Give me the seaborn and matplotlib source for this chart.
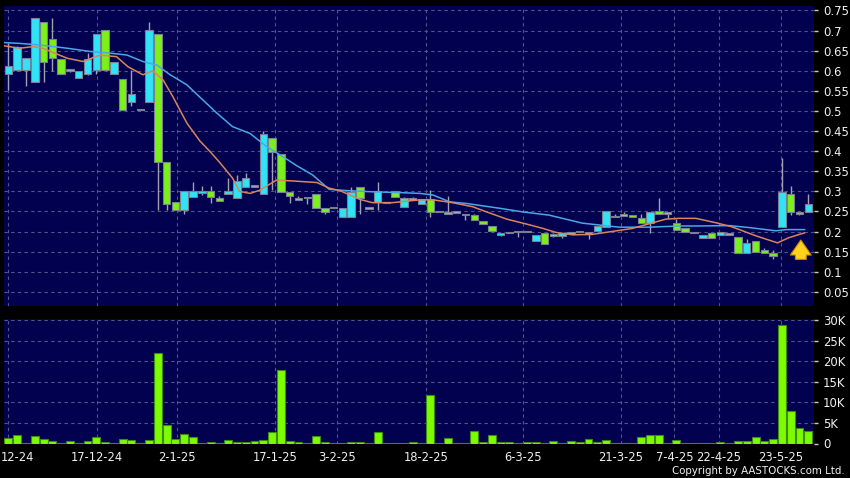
import numpy as np
import matplotlib
matplotlib.use("Agg")
import matplotlib.pyplot as plt
import seaborn as sns

# ---------------- data ----------------
opens = [0.592, 0.602, 0.602, 0.572, 0.720, 0.680, 0.630, 0.600, 0.582, 0.592,
         0.602, 0.701, 0.592, 0.580, 0.522, 0.502, 0.522, 0.691, 0.372, 0.273,
         0.254, 0.287, 0.297, 0.302, 0.283, 0.293, 0.283, 0.312, 0.312, 0.293,
         0.432, 0.392, 0.298, 0.278, 0.283, 0.293, 0.258, 0.258, 0.237, 0.237,
         0.312, 0.257, 0.273, 0.270, 0.302, 0.262, 0.279, 0.269, 0.281, 0.248,
         0.245, 0.247, 0.241, 0.241, 0.227, 0.214, 0.192, 0.196, 0.198, 0.198,
         0.177, 0.196, 0.192, 0.189, 0.195, 0.198, 0.195, 0.201, 0.212, 0.236,
         0.244, 0.240, 0.233, 0.221, 0.251, 0.249, 0.222, 0.208, 0.196, 0.183,
         0.196, 0.192, 0.192, 0.187, 0.148, 0.177, 0.154, 0.146, 0.212, 0.293,
         0.245, 0.248]
highs = [0.670, 0.662, 0.631, 0.731, 0.720, 0.731, 0.630, 0.602, 0.600, 0.644,
         0.691, 0.701, 0.621, 0.580, 0.602, 0.502, 0.721, 0.691, 0.372, 0.273,
         0.302, 0.324, 0.313, 0.313, 0.289, 0.333, 0.341, 0.345, 0.312, 0.450,
         0.432, 0.392, 0.298, 0.289, 0.283, 0.293, 0.258, 0.258, 0.258, 0.312,
         0.312, 0.257, 0.324, 0.270, 0.302, 0.285, 0.285, 0.281, 0.303, 0.251,
         0.289, 0.247, 0.241, 0.243, 0.227, 0.214, 0.196, 0.200, 0.198, 0.198,
         0.192, 0.196, 0.196, 0.196, 0.195, 0.198, 0.195, 0.214, 0.251, 0.243,
         0.248, 0.240, 0.245, 0.249, 0.283, 0.249, 0.232, 0.208, 0.196, 0.192,
         0.196, 0.200, 0.192, 0.187, 0.181, 0.177, 0.159, 0.154, 0.382, 0.313,
         0.247, 0.293]
lows = [0.552, 0.600, 0.562, 0.572, 0.572, 0.600, 0.592, 0.598, 0.582, 0.590,
        0.592, 0.602, 0.592, 0.502, 0.512, 0.502, 0.522, 0.254, 0.254, 0.254,
        0.244, 0.287, 0.292, 0.272, 0.277, 0.293, 0.283, 0.312, 0.312, 0.293,
        0.303, 0.298, 0.272, 0.278, 0.268, 0.258, 0.245, 0.258, 0.237, 0.237,
        0.243, 0.257, 0.254, 0.270, 0.287, 0.262, 0.279, 0.269, 0.236, 0.248,
        0.245, 0.247, 0.229, 0.229, 0.218, 0.201, 0.190, 0.196, 0.186, 0.198,
        0.177, 0.169, 0.186, 0.185, 0.195, 0.198, 0.181, 0.201, 0.212, 0.236,
        0.240, 0.237, 0.221, 0.197, 0.243, 0.235, 0.204, 0.200, 0.196, 0.183,
        0.183, 0.192, 0.192, 0.146, 0.148, 0.150, 0.146, 0.133, 0.212, 0.241,
        0.241, 0.248]
closes = [0.612, 0.660, 0.631, 0.731, 0.622, 0.632, 0.592, 0.600, 0.600, 0.630,
          0.691, 0.602, 0.621, 0.502, 0.541, 0.502, 0.701, 0.373, 0.269, 0.254,
          0.302, 0.302, 0.300, 0.287, 0.277, 0.302, 0.327, 0.333, 0.312, 0.442,
          0.397, 0.298, 0.288, 0.283, 0.283, 0.258, 0.249, 0.258, 0.258, 0.298,
          0.283, 0.257, 0.302, 0.270, 0.287, 0.283, 0.281, 0.281, 0.248, 0.251,
          0.247, 0.247, 0.241, 0.229, 0.218, 0.201, 0.196, 0.200, 0.198, 0.198,
          0.192, 0.169, 0.189, 0.196, 0.195, 0.198, 0.195, 0.214, 0.251, 0.238,
          0.240, 0.237, 0.221, 0.249, 0.243, 0.244, 0.204, 0.200, 0.196, 0.192,
          0.183, 0.200, 0.192, 0.146, 0.171, 0.150, 0.146, 0.140, 0.298, 0.249,
          0.245, 0.268]
volumes_k = [1.4, 2.0, 0.05, 1.9, 1.1, 0.5, 0.05, 0.7, 0.05, 0.5,
             1.5, 0.3, 0.05, 1.05, 0.9, 0.05, 0.9, 22.1, 4.5, 1.2,
             2.4, 1.6, 0.2, 0.4, 0.05, 0.8, 0.25, 0.25, 0.55, 0.8,
             2.8, 17.8, 0.55, 0.25, 0.15, 1.8, 0.25, 0.05, 0.05, 0.3,
             0.25, 0.05, 2.9, 0.05, 0.05, 0.15, 0.4, 0.05, 11.8, 0.2,
             1.4, 0.05, 0.05, 3.0, 0.3, 2.0, 0.3, 0.25, 0.05, 0.25,
             0.25, 0.05, 0.7, 0.05, 0.65, 0.25, 1.05, 0.3, 0.8, 0.2,
             0.2, 0.05, 1.6, 1.95, 2.1, 0.05, 0.8, 0.05, 0.05, 0.05,
             0.05, 0.3, 0.05, 0.5, 0.5, 1.55, 0.65, 1.05, 28.8, 7.95,
             3.65, 3.0]

# moving-average lines read at sample positions (bar index units)
ma_long_x = [-0.5, 1.3, 3.6, 6.7, 9.3, 11.5, 13.5, 15.3, 16.9, 18.4, 20.3, 21.8,
             23.7, 25.5, 27.5, 29.4, 30.9, 32.8, 34.6, 36.5, 38.5, 41.4, 44.5,
             46.8, 48.3, 50.2, 52.1, 55.9, 58.5, 61.5, 65.3, 69.5, 72.9, 76.3,
             78.6, 82.0, 84.3, 87.3, 88.5, 90.6]
ma_long = [0.670, 0.668, 0.664, 0.656, 0.648, 0.644, 0.639, 0.623, 0.614, 0.590,
           0.565, 0.534, 0.495, 0.461, 0.444, 0.411, 0.391, 0.364, 0.341, 0.305,
           0.302, 0.299, 0.297, 0.295, 0.291, 0.274, 0.270, 0.258, 0.249, 0.241,
           0.221, 0.211, 0.211, 0.214, 0.214, 0.215, 0.210, 0.202, 0.205, 0.205]
ma_short_x = [-0.5, 1.3, 2.8, 3.9, 6.7, 8.5, 10.4, 12.3, 13.6, 15.3, 16.4, 17.6,
              18.7, 20.3, 21.8, 22.9, 24.0, 25.5, 26.3, 27.5, 28.6, 30.5, 32.3,
              35.1, 36.5, 37.7, 40.0, 41.4, 43.7, 46.8, 48.3, 50.5, 52.8, 54.4,
              56.7, 58.9, 60.8, 62.3, 64.2, 66.4, 69.5, 71.0, 74.8, 76.3, 78.2,
              80.5, 82.3, 85.1, 87.5, 88.8, 90.6]
ma_short = [0.662, 0.656, 0.660, 0.656, 0.631, 0.623, 0.639, 0.635, 0.610, 0.590,
            0.600, 0.577, 0.536, 0.470, 0.425, 0.400, 0.373, 0.333, 0.300, 0.295,
            0.303, 0.328, 0.326, 0.322, 0.308, 0.302, 0.280, 0.272, 0.272, 0.279,
            0.279, 0.272, 0.262, 0.249, 0.231, 0.219, 0.208, 0.198, 0.192, 0.193,
            0.203, 0.208, 0.231, 0.233, 0.233, 0.222, 0.212, 0.189, 0.172, 0.185,
            0.197]

# first label is only partly visible in the source ("12-24" at the left edge)
x_tick_labels = ["12-24", "17-12-24", "2-1-25", "17-1-25", "3-2-25", "18-2-25",
                 "6-3-25", "21-3-25", "7-4-25", "22-4-25", "23-5-25"]
x_tick_days = [0, 10, 19, 30, 37, 47, 58, 69, 75, 80, 87]
price_ticks = [0.05, 0.1, 0.15, 0.2, 0.25, 0.3, 0.35, 0.4, 0.45, 0.5, 0.55,
               0.6, 0.65, 0.7, 0.75]
price_tick_labels = ["0.05", "0.1", "0.15", "0.2", "0.25", "0.3", "0.35", "0.4",
                     "0.45", "0.5", "0.55", "0.6", "0.65", "0.7", "0.75"]
vol_ticks = [0, 5, 10, 15, 20, 25, 30]
vol_tick_labels = ["0", "5K", "10K", "15K", "20K", "25K", "30K"]

# ---------------- style ----------------
sns.set_theme(style="dark")
plt.rcParams["font.family"] = ["DejaVu Sans"]

NAVY = "#01014f"
GRID = "#54548c"
CYAN = "#2ee4f6"
GREEN = "#7cf01c"
DOJI = "#a8a8b8"
WICK = "#a0a0b0"
EDGE = "#7a8090"
TXT = "#f0f0f0"
TICK_SCALE = 8.89 / 8.8   # tick spacing of the source chart vs bar spacing

fig = plt.figure(figsize=(8.5, 4.78), dpi=100, facecolor="black")
W, H = 850.0, 478.0
ax = fig.add_axes([4 / W, (H - 306) / H, (814 - 4) / W, 300 / H], facecolor=NAVY)
axv = fig.add_axes([4 / W, (H - 443.5) / H, (814 - 4) / W, 124.5 / H], facecolor=NAVY)

n = len(opens)
idx = np.arange(n)
o = np.array(opens); c = np.array(closes)
hi = np.array(highs); lo = np.array(lows)
colors = [CYAN if cc > oo else (GREEN if cc < oo else DOJI) for oo, cc in zip(o, c)]
bottoms = np.minimum(o, c)
heights = np.maximum(np.abs(c - o), 0.004)

xlim = (-0.5, 91.65)
tick_pos = [d * TICK_SCALE for d in x_tick_days]

for a in (ax, axv):
    for s in a.spines.values():
        s.set_visible(False)
    a.set_xlim(*xlim)
    a.set_xticks(tick_pos)
    a.grid(True, axis="both", color=GRID, linestyle=(0, (3, 3)), linewidth=0.8)
    a.set_axisbelow(True)

# candles
ax.vlines(idx, lo, hi, color=WICK, linewidth=1.0, zorder=2)
ax.bar(idx, heights, bottom=bottoms, width=0.85, color=colors,
       edgecolor=EDGE, linewidth=0.8, zorder=3)

# moving averages
sns.lineplot(x=ma_long_x, y=ma_long, ax=ax, color="#4aa6e6", linewidth=1.1,
             sort=False, estimator=None, zorder=4)
sns.lineplot(x=ma_short_x, y=ma_short, ax=ax, color="#d9845c", linewidth=1.1,
             sort=False, estimator=None, zorder=5)

# arrow marker
ax.annotate("", xy=(90.15, 0.186), xytext=(90.15, 0.124),
            arrowprops=dict(arrowstyle="simple,head_width=1.25,head_length=0.9,tail_width=0.65",
                            fc="#ffd21e", ec="#c88a00", lw=0.8), zorder=6)

ax.set_ylim(0.015, 0.761)
ax.set_xlim(*xlim)
ax.set_yticks(price_ticks)
ax.set_yticklabels(price_tick_labels)
ax.yaxis.tick_right()
ax.tick_params(axis="y", length=3, width=1, color="#c8c8c8", labelcolor=TXT,
               labelsize=8.4, pad=3.5)
ax.tick_params(axis="x", length=0, labelbottom=False)
ax.set_xlabel(""); ax.set_ylabel("")

# volume
sns.barplot(x=idx, y=volumes_k, ax=axv, native_scale=True, width=0.9,
            color="#7cfc00", saturation=1, edgecolor="#3f8a10", linewidth=0.8,
            zorder=3)
axv.set_xlim(*xlim)
axv.set_ylim(0, 30.25)
axv.set_yticks(vol_ticks)
axv.set_yticklabels(vol_tick_labels)
axv.yaxis.tick_right()
axv.tick_params(axis="y", length=3, width=1, color="#c8c8c8", labelcolor=TXT,
                labelsize=8.4, pad=3.5)
axv.set_xticks(tick_pos)
axv.set_xticklabels([""] + x_tick_labels[1:])
axv.tick_params(axis="x", length=3, width=1, color="#c8c8c8", labelcolor=TXT,
                labelsize=8.3, pad=2.5)
axv.set_xlabel(""); axv.set_ylabel("")

# the partly visible first date label, kept inside the frame
fig.text(0.5 / W, (H - 457.5) / H, x_tick_labels[0], ha="left", va="center",
         color=TXT, fontsize=8.3)

fig.text(845 / W, (H - 471) / H, "Copyright by AASTOCKS.com Ltd.", ha="right",
         va="center", color=TXT, fontsize=7.4)

fig.savefig("out.png", dpi=100, facecolor="black")
